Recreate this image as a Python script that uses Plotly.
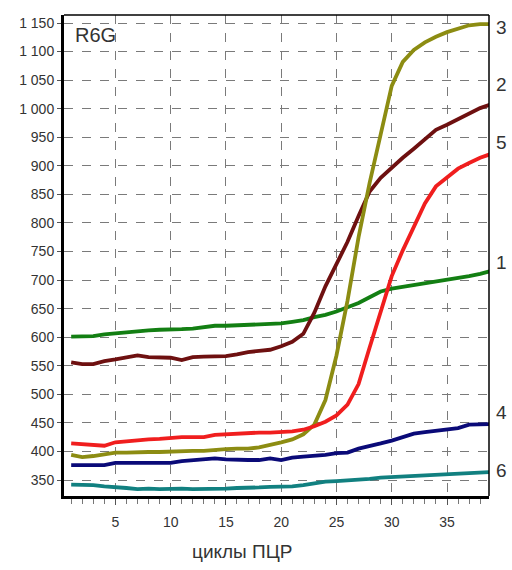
import plotly.graph_objects as go

cycles = list(range(1, 40))

curve1 = [601, 601, 602, 605, 607, 609, 611, 612, 613, 613, 614, 615, 617, 620, 620, 621, 622, 622, 623, 624,
          627, 630, 635, 639, 645, 652, 660, 670, 680, 685, 688, 691, 694, 697, 700, 703, 707, 711, 716]
curve2 = [556, 553, 553, 558, 561, 565, 568, 565, 564, 564, 560, 565, 566, 566, 567, 570, 574, 576, 578, 584,
          592, 606, 643, 689, 727, 767, 812, 855, 879, 897, 914, 930, 947, 963, 972, 982, 992, 1001, 1008]
curve3 = [394, 390, 392, 395, 398, 398, 399, 399, 399, 400, 400, 401, 401, 403, 404, 405, 405, 407, 411, 416,
          421, 430, 447, 490, 568, 664, 775, 870, 955, 1040, 1082, 1103, 1116, 1126, 1134, 1140, 1146, 1148, 1148]
curve4 = [376, 376, 376, 376, 380, 380, 380, 380, 380, 380, 383, 385, 387, 388, 386, 385, 385, 385, 388, 385,
          389, 391, 392, 394, 397, 398, 405, 409, 414, 419, 425, 431, 434, 436, 438, 441, 447, 448, 448]
curve5 = [414, 413, 412, 410, 416, 418, 420, 421, 422, 424, 425, 425, 425, 429, 430, 432, 432, 433, 433, 434,
          435, 438, 444, 452, 463, 482, 518, 582, 646, 707, 752, 792, 834, 864, 880, 895, 905, 914, 921]
curve6 = [342, 342, 341, 339, 338, 336, 334, 335, 334, 335, 335, 334, 334, 335, 335, 336, 336, 337, 338, 338,
          339, 341, 344, 347, 348, 349, 351, 352, 354, 355, 356, 357, 358, 359, 360, 360, 361, 362, 364]

series = [
    ("1", curve1, "#137f13"),
    ("2", curve2, "#6e1010"),
    ("3", curve3, "#8c8c12"),
    ("4", curve4, "#0a0a78"),
    ("5", curve5, "#f01e1e"),
    ("6", curve6, "#118080"),
]

y_ticks = list(range(350, 1151, 50))
y_tick_text = [f"{v:,}".replace(",", " ") for v in y_ticks]
x_ticks = [5, 10, 15, 20, 25, 30, 35]

# right-side curve labels: (text, y value)
end_labels = [("3", 1143), ("2", 1042), ("5", 940), ("1", 730), ("4", 469), ("6", 367)]

fig = go.Figure()
for name, vals, col in series:
    fig.add_trace(go.Scatter(x=cycles, y=vals, mode="lines", name=name,
                             line=dict(color=col, width=3.8),
                             showlegend=False, hoverinfo="skip"))

fig.update_layout(
    width=512, height=570,
    margin=dict(l=64, r=23, t=15, b=74),
    paper_bgcolor="white", plot_bgcolor="white",
    font=dict(family="Liberation Sans, Arial, sans-serif", color="#333333", size=14),
)

fig.update_xaxes(
    range=[0.35, 38.8], tickvals=x_ticks, ticks="outside", ticklen=6, tickcolor="#555",
    showgrid=True, gridcolor="#7a7a7a", griddash="dash", gridwidth=1,
    showline=True, linecolor="black", linewidth=3, zeroline=False,
    minor=dict(dtick=1, tick0=0, ticks="outside", ticklen=5, tickcolor="#777", showgrid=False),
    ticklabelstandoff=5, tickfont=dict(size=14), automargin=False,
)
fig.update_yaxes(
    range=[322, 1164], tickvals=y_ticks, ticktext=y_tick_text, ticks="outside", ticklen=4,
    tickcolor="#555", showgrid=True, gridcolor="#7a7a7a", griddash="dash", gridwidth=1,
    showline=True, linecolor="black", linewidth=3, zeroline=False, tickfont=dict(size=14),
    automargin=False,
)

# thin frame on top and right
fig.add_shape(type="line", xref="paper", yref="paper", x0=0, x1=1, y0=1, y1=1,
              line=dict(color="black", width=1.5))
fig.add_shape(type="line", xref="paper", yref="paper", x0=1, x1=1, y0=0, y1=1,
              line=dict(color="black", width=1.5))

fig.add_annotation(text="R6G", xref="paper", yref="paper", x=0.02, y=0.985,
                   xanchor="left", yanchor="top", showarrow=False,
                   font=dict(size=20, color="#333333"))

for txt, yv in end_labels:
    fig.add_annotation(text=txt, xref="paper", yref="y", x=1.012, y=yv,
                       xanchor="left", yanchor="middle", showarrow=False,
                       font=dict(size=19, color="#333333"))

fig.add_annotation(text="циклы ПЦР", xref="paper", yref="paper", x=0.419, y=-0.116,
                   xanchor="center", yanchor="middle", showarrow=False,
                   font=dict(size=19, color="#333333"))

fig.write_html("out.html", config={"displayModeBar": False},
               post_script="document.body.style.margin='0px';document.body.style.overflow='hidden';")
